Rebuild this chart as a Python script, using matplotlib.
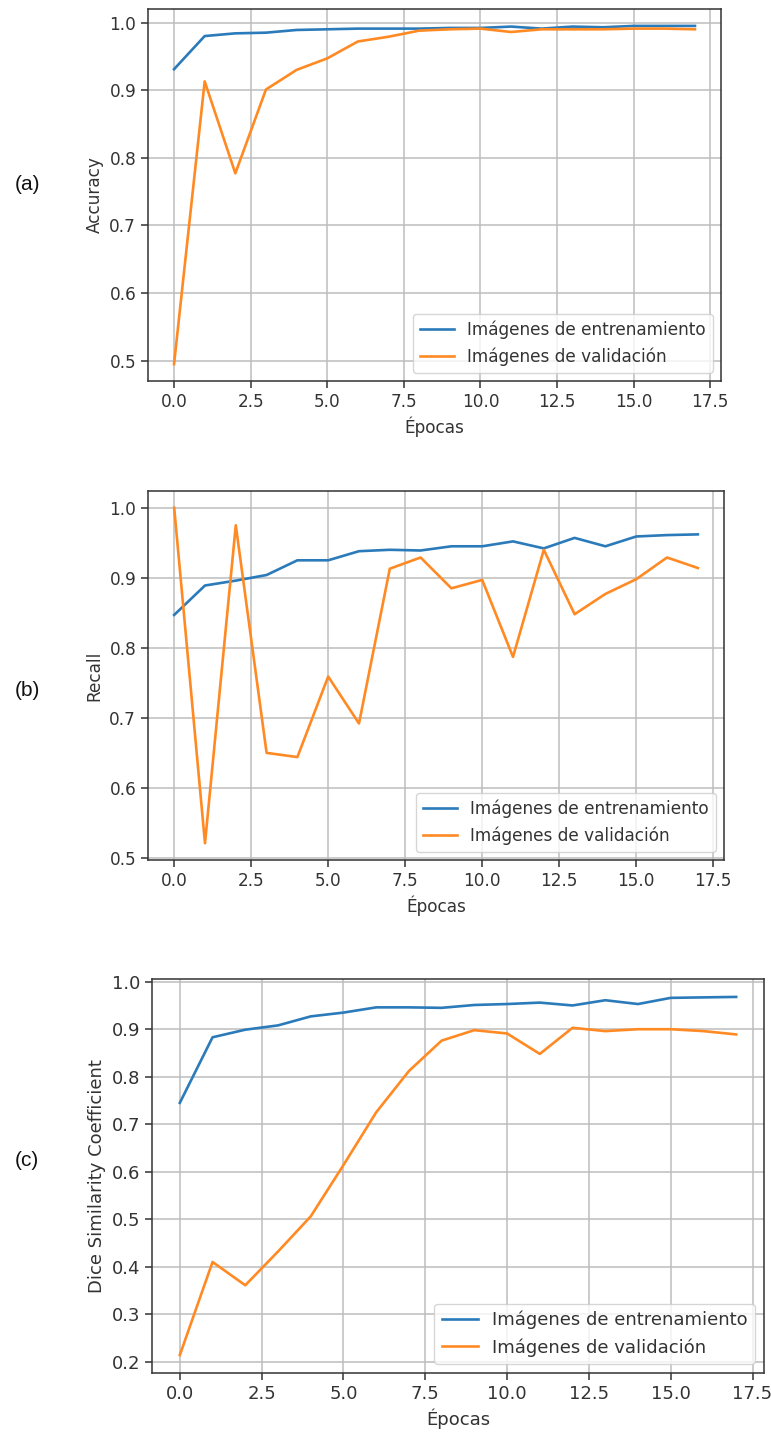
import numpy as np
import matplotlib
matplotlib.use('Agg')
import matplotlib.pyplot as plt

########## DATA
epocas = np.arange(18)

acc_train = [0.931, 0.980, 0.984, 0.985, 0.989, 0.990, 0.991, 0.991, 0.991, 0.992,
             0.992, 0.994, 0.991, 0.994, 0.993, 0.995, 0.995, 0.995]
acc_val = [0.495, 0.913, 0.777, 0.901, 0.930, 0.947, 0.972, 0.979, 0.988, 0.990,
           0.991, 0.986, 0.990, 0.990, 0.990, 0.991, 0.991, 0.990]

rec_train = [0.847, 0.889, 0.896, 0.904, 0.925, 0.925, 0.938, 0.940, 0.939, 0.945,
             0.945, 0.952, 0.942, 0.957, 0.945, 0.959, 0.961, 0.962]
rec_val = [1.000, 0.521, 0.975, 0.650, 0.644, 0.759, 0.692, 0.913, 0.929, 0.885,
           0.897, 0.787, 0.940, 0.848, 0.877, 0.898, 0.929, 0.914]

dice_train = [0.745, 0.883, 0.899, 0.908, 0.927, 0.935, 0.946, 0.946, 0.945, 0.951,
              0.953, 0.956, 0.950, 0.961, 0.953, 0.966, 0.967, 0.968]
dice_val = [0.214, 0.410, 0.361, 0.432, 0.506, 0.614, 0.725, 0.812, 0.876, 0.898,
            0.891, 0.848, 0.903, 0.896, 0.900, 0.900, 0.896, 0.889]

ylabels = ['Accuracy', 'Recall', 'Dice Similarity Coefficient']
paneles = ['(a)', '(b)', '(c)']
leyenda = ['Imágenes de entrenamiento', 'Imágenes de validación']

########## FIGURE
W, H = 771, 1435
fig = plt.figure(figsize=(W/100, H/100), dpi=100)
gris = '#333333'  # upscaled screenshot text looks a bit soft

# axes boxes in pixels: left, right, top, bottom
cajas = [(148, 721, 9, 381), (148, 724, 491, 860), (152, 764, 979, 1373)]
etiq_y = [185, 690, 1160]
fsize = [12.2, 12.2, 13]

series = [(acc_train, acc_val), (rec_train, rec_val), (dice_train, dice_val)]

for k in range(3):
	l, r, t, b = cajas[k]
	ax = fig.add_axes([l/W, 1 - b/H, (r - l)/W, (b - t)/H])
	tr, va = series[k]
	ax.plot(epocas, tr, color='#2b7bba', lw=1.9, label=leyenda[0])
	ax.plot(epocas, va, color='#ff8a24', lw=1.9, label=leyenda[1])
	ax.grid(True, color='#bdbdbd', lw=1.1)
	ax.set_ylabel(ylabels[k], fontsize=fsize[k], color=gris)
	ax.set_xlabel('Épocas', fontsize=fsize[k], color=gris)
	ax.tick_params(labelsize=fsize[k], width=1.1, length=5, color=gris, labelcolor=gris)
	for s in ax.spines.values():
		s.set_linewidth(1.1)
		s.set_color(gris)
	lg = ax.legend(loc='lower right', fontsize=fsize[k])
	for txt in lg.get_texts():
		txt.set_color(gris)
	fig.text(27/W, 1 - etiq_y[k]/H, paneles[k], fontsize=15, family='Liberation Sans',
	         ha='center', va='center', color='#111111')

plt.savefig('out.png', dpi=100)
